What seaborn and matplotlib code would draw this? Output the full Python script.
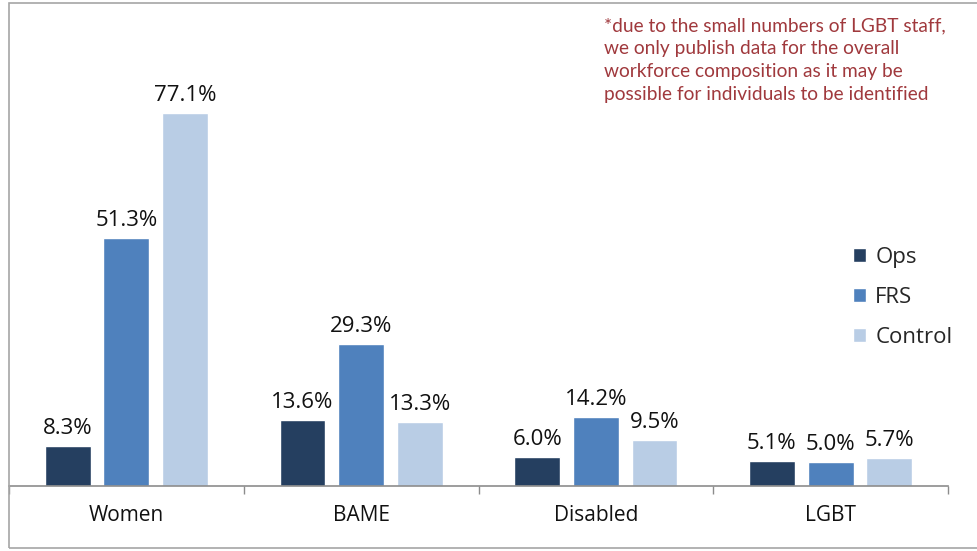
import matplotlib.pyplot as plt
import matplotlib.patches as patches
import seaborn as sns
import pandas as pd

# Data
groups = ["Women", "BAME", "Disabled", "LGBT"]
ops = [8.3, 13.6, 6.0, 5.1]
frs = [51.3, 29.3, 14.2, 5.0]
control = [77.1, 13.3, 9.5, 5.7]
series_names = ["Ops", "FRS", "Control"]
colors = ["#253F60", "#4F81BD", "#B9CDE5"]
note = ("*due to the small numbers of LGBT staff,\n"
        "we only publish data for the overall\n"
        "workforce composition as it may be\n"
        "possible for individuals to be identified")

df = pd.DataFrame({"Group": groups, "Ops": ops, "FRS": frs, "Control": control})
long_df = df.melt(id_vars="Group", var_name="Series", value_name="Value")

sns.set_theme(style="white")
plt.rcParams["font.family"] = ["Open Sans", "DejaVu Sans"]

fig = plt.figure(figsize=(9.77, 5.51), dpi=100)
ax = fig.add_axes([9 / 977, 1 - 486 / 551, (948 - 9) / 977, (486 - 3) / 551])

sns.barplot(long_df, x="Group", y="Value", hue="Series", hue_order=series_names,
            palette=colors, width=0.75, gap=0.22, saturation=1, ax=ax)

for cont in ax.containers:
    ax.bar_label(cont, fmt="%.1f%%", padding=5, fontsize=16, color="#111111")

ax.set_ylim(0, 99.8)
ax.set_xlim(-0.5, 3.5)
ax.set_yticks([])
ax.set_xlabel("")
ax.set_ylabel("")

# group boundaries as major ticks, category names as minor ticks
ax.set_xticks([-0.5, 0.5, 1.5, 2.5, 3.5])
ax.set_xticklabels([])
ax.set_xticks([0, 1, 2, 3], minor=True)
ax.set_xticklabels(groups, minor=True, fontsize=15, color="#111111")
ax.tick_params(axis="x", which="major", direction="out", length=6, width=1, color="#8C8C8C", bottom=True)
ax.tick_params(axis="x", which="minor", length=0, pad=14)

for side in ["top", "right", "left"]:
    ax.spines[side].set_visible(False)
ax.spines["bottom"].set_color("#8C8C8C")
ax.spines["bottom"].set_linewidth(1.2)

# Legend
handles, labels = ax.get_legend_handles_labels()
ax.legend(handles=handles, labels=labels, loc="upper left", bbox_to_anchor=(842 / 977, 1 - 236 / 551),
          bbox_transform=fig.transFigure, frameon=False, fontsize=16, handlelength=0.6,
          handleheight=0.6, handletextpad=0.4, labelspacing=0.85, borderpad=0)

# Note
fig.text(604 / 977, 1 - 17 / 551, note, ha="left", va="top", fontsize=13.8, color="#A0393D",
         linespacing=1.42, family=["Lato", "DejaVu Sans"])

# chart border
fig.patches.append(patches.Rectangle((9 / 977, 3 / 551), 1.0, (548 - 3) / 551, transform=fig.transFigure,
                                     fill=False, edgecolor="#A6A6A6", linewidth=1.2))

fig.savefig("out.png", dpi=100)
